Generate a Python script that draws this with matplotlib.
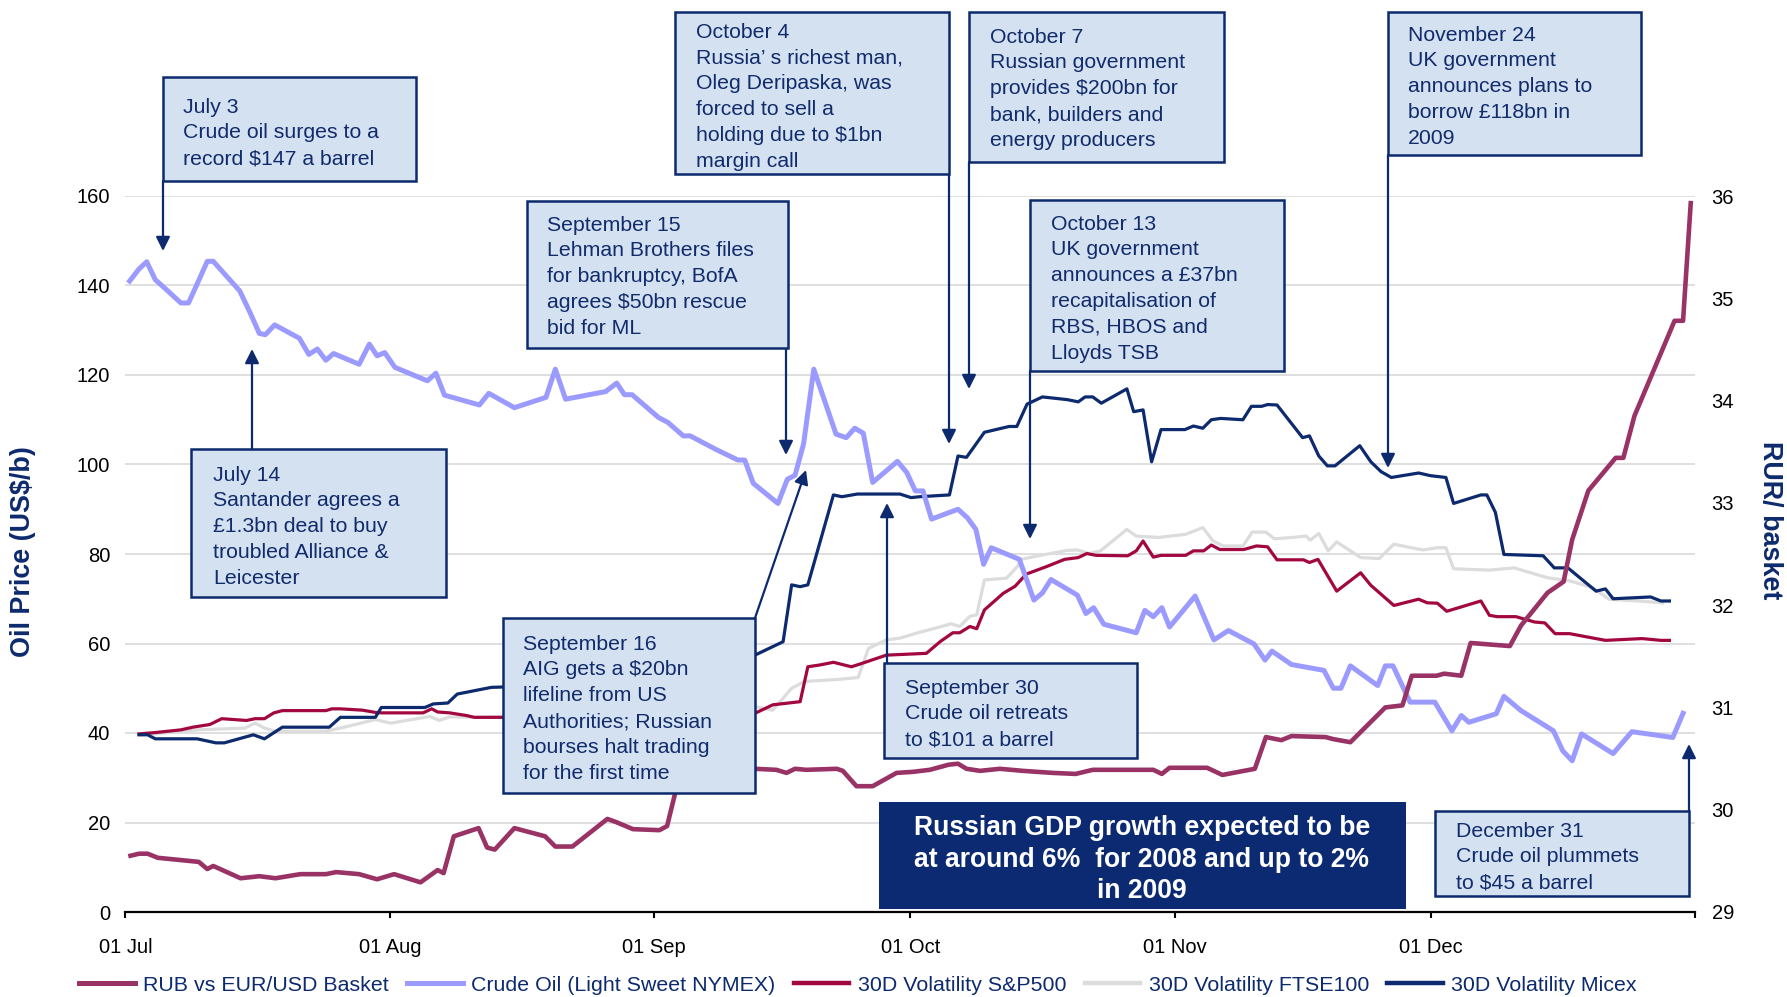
import matplotlib
matplotlib.use('Agg')
import matplotlib.pyplot as plt
from matplotlib.patches import Rectangle, FancyArrowPatch
from matplotlib.lines import Line2D

plt.rcParams['font.family'] = ['Liberation Sans', 'DejaVu Sans']

# ---------------- data (x = days since 01 Jul 2008) ----------------
tick_days = [0, 31, 62, 92, 123, 153, 184]
tick_labels = ['01 Jul', '01 Aug', '01 Sep', '01 Oct', '01 Nov', '01 Dec', '']
left_ticks = [0, 20, 40, 60, 80, 100, 120, 140, 160]
right_ticks = [29, 30, 31, 32, 33, 34, 35, 36]

crude_days = [0.5, 1.6, 2.5, 3.5, 4.5, 6.5, 7.4, 8.4, 9.6, 10.3, 13.4, 14.6, 15.7, 16.4, 17.5,
              20.4, 21.5, 22.5, 23.5, 24.4, 27.4, 28.6, 29.5, 30.4, 31.6, 35.4, 36.4, 37.4,
              41.5, 42.6, 45.6, 49.3, 50.4, 51.6, 56.3, 57.6, 58.5, 59.4, 62.5, 63.6, 65.4,
              66.2, 69.3, 70.6, 71.8, 72.6, 73.6, 76.5, 77.6, 78.5, 79.5, 80.7, 83.3, 84.5,
              85.5, 86.5, 87.6, 90.5, 91.6, 92.6, 93.5, 94.5, 97.6, 98.7, 99.7, 100.6, 101.5,
              104.8, 106.5, 107.5, 108.5, 111.6, 112.6, 113.5, 114.7, 118.5, 119.5, 120.5,
              121.5, 122.4, 125.4, 127.6, 129.3, 132.3, 133.6, 134.4, 136.7, 140.5, 141.6,
              142.5, 143.6, 146.8, 147.7, 148.6, 150.6, 153.5, 155.5, 156.6, 157.5, 160.7,
              161.6, 163.6, 167.4, 168.5, 169.6, 170.7, 174.4, 176.6, 181.4, 182.6]
crude_vals = [141.0, 143.7, 145.3, 141.3, 139.6, 136.1, 136.1, 140.3, 145.4, 145.4, 138.8, 134.0,
              129.3, 129.0, 131.2, 128.2, 124.6, 125.8, 123.3, 124.8, 122.4, 126.9, 124.3, 125.0,
              121.7, 118.7, 120.4, 115.5, 113.3, 115.9, 112.7, 115.0, 121.3, 114.6, 116.3, 118.2,
              115.6, 115.6, 110.5, 109.4, 106.4, 106.4, 103.3, 102.1, 101.0, 101.0, 95.8, 91.3,
              96.7, 97.6, 104.6, 121.3, 106.8, 106.0, 108.1, 107.0, 96.0, 100.7, 98.2, 94.1,
              94.1, 87.8, 90.0, 88.1, 85.5, 77.7, 81.4, 78.8, 69.7, 71.3, 74.3, 70.8, 66.7,
              68.0, 64.3, 62.4, 67.4, 66.0, 68.0, 63.7, 70.6, 60.8, 62.9, 59.9, 56.3, 58.3,
              55.3, 54.0, 50.0, 50.0, 55.0, 50.6, 55.0, 55.0, 46.9, 46.9, 40.5, 43.9, 42.4,
              44.3, 48.2, 45.0, 40.5, 36.0, 33.8, 39.8, 35.4, 40.3, 39.0, 44.4]

micex_days = [1.6, 2.6, 3.5, 8.4, 10.6, 11.6, 15.0, 16.3, 18.4, 23.9, 25.2, 29.3, 30.0, 35.1,
              36.1, 37.8, 38.9, 42.9, 48.0, 55.0, 62.0, 68.0, 72.0, 73.8, 77.1, 78.1, 79.1,
              80.0, 83.0, 84.0, 85.8, 90.8, 92.1, 93.1, 96.6, 97.6, 98.6, 100.7, 103.6, 104.5,
              105.7, 107.5, 110.4, 111.7, 112.5, 113.4, 114.4, 117.4, 118.2, 119.3, 120.3,
              121.4, 124.2, 125.2, 126.3, 127.3, 128.4, 131.0, 132.0, 133.2, 133.9, 135.0,
              138.0, 138.8, 139.9, 140.9, 141.8, 144.7, 146.0, 147.2, 148.4, 151.6, 153.0,
              154.8, 155.7, 158.9, 159.6, 160.6, 161.6, 166.2, 167.5, 169.1, 172.4, 173.5,
              174.4, 178.8, 180.0, 181.0]
micex_vals = [39.6, 39.6, 38.7, 38.7, 37.8, 37.8, 39.6, 38.7, 41.3, 41.3, 43.5, 43.5, 45.7, 45.7,
              46.5, 46.7, 48.7, 50.2, 50.5, 51.0, 52.0, 55.0, 57.0, 57.4, 60.4, 73.1, 72.7,
              73.1, 93.2, 92.8, 93.4, 93.4, 92.6, 92.8, 93.2, 101.9, 101.6, 107.2, 108.5, 108.5,
              113.5, 115.1, 114.5, 114.0, 115.1, 115.1, 113.7, 116.9, 111.8, 112.2, 100.6,
              107.8, 107.8, 108.6, 108.1, 110.0, 110.3, 110.0, 113.0, 113.0, 113.4, 113.3,
              106.0, 106.4, 101.9, 99.7, 99.7, 104.2, 100.6, 98.4, 97.1, 98.1, 97.5, 97.1,
              91.3, 93.2, 93.2, 89.3, 79.9, 79.6, 76.9, 76.9, 71.7, 72.2, 70.0, 70.4, 69.5, 69.5]

sp_days = [1.6, 3.5, 6.5, 7.9, 9.9, 11.3, 14.2, 15.2, 16.3, 17.4, 18.4, 23.5, 24.2, 25.2, 27.8,
           29.3, 30.0, 34.9, 35.9, 36.6, 38.0, 40.0, 40.9, 43.5, 50.0, 58.0, 66.0, 70.0, 73.8,
           75.9, 79.1, 80.0, 81.4, 83.0, 85.1, 86.1, 89.2, 93.9, 95.5, 97.0, 97.8, 99.0, 99.8,
           100.7, 102.9, 104.3, 105.6, 108.0, 110.1, 111.7, 112.7, 113.8, 117.5, 118.5, 119.3,
           120.5, 121.4, 124.3, 125.2, 126.4, 127.3, 128.3, 131.1, 132.6, 133.9, 135.0, 138.1,
           138.8, 139.8, 142.0, 144.8, 146.0, 148.7, 151.6, 152.6, 153.8, 154.9, 158.9, 159.9,
           160.8, 163.0, 165.2, 166.4, 167.6, 169.3, 173.5, 177.8, 180.0, 181.0]
sp_vals = [39.8, 40.1, 40.7, 41.3, 41.9, 43.2, 42.8, 43.2, 43.2, 44.5, 45.0, 45.0, 45.4, 45.4,
           45.1, 44.6, 44.5, 44.5, 45.4, 44.7, 44.5, 43.9, 43.5, 43.5, 43.5, 44.0, 44.0, 44.2,
           44.4, 46.3, 47.0, 54.8, 55.2, 55.8, 54.8, 55.4, 57.4, 57.8, 60.4, 62.4, 62.4, 63.8,
           63.3, 67.5, 71.2, 72.8, 75.5, 77.2, 78.8, 79.2, 80.1, 79.7, 79.6, 80.7, 82.9, 79.3,
           79.7, 79.7, 80.7, 80.7, 82.0, 81.0, 81.0, 81.8, 81.6, 78.7, 78.7, 78.1, 78.8, 71.7,
           75.8, 73.0, 68.5, 69.9, 69.1, 69.0, 67.2, 69.5, 66.3, 66.0, 66.0, 64.8, 64.6, 62.2,
           62.2, 60.7, 61.1, 60.7, 60.7]

ftse_days = [1.6, 3.5, 8.4, 14.0, 15.2, 16.3, 17.6, 23.5, 25.2, 29.3, 31.1, 35.7, 36.8, 38.0,
             41.0, 43.5, 50.0, 58.0, 66.0, 70.0, 73.8, 75.9, 78.1, 79.6, 83.7, 85.9, 87.1, 89.2,
             90.8, 92.9, 94.9, 96.8, 97.8, 99.0, 99.8, 100.7, 103.3, 104.6, 105.0, 106.0, 107.0,
             110.4, 111.6, 113.0, 114.3, 117.4, 118.5, 121.1, 124.3, 126.3, 127.5, 128.7, 131.0,
             132.1, 133.7, 134.7, 136.8, 138.4, 138.9, 139.9, 141.0, 142.0, 144.8, 147.0, 148.7,
             152.1, 153.8, 154.8, 155.7, 159.9, 162.8, 166.7, 169.3, 172.0, 173.9, 177.3, 180.2]
ftse_vals = [39.6, 39.8, 40.7, 41.1, 42.2, 41.1, 40.4, 40.4, 41.1, 43.0, 42.2, 43.7, 42.8, 43.6,
             43.5, 43.6, 44.0, 44.5, 45.0, 45.5, 45.9, 45.1, 50.0, 51.5, 52.0, 52.4, 58.9, 60.8,
             61.2, 62.4, 63.4, 64.4, 63.8, 66.1, 66.4, 74.2, 74.6, 77.3, 78.8, 79.2, 79.6, 80.8,
             80.9, 80.1, 80.7, 85.5, 84.0, 83.7, 84.4, 85.9, 82.9, 81.8, 81.8, 84.9, 84.9, 83.4,
             83.7, 84.0, 83.1, 84.6, 80.7, 82.7, 79.2, 79.0, 82.2, 80.9, 81.4, 81.4, 76.7, 76.4,
             76.9, 74.7, 74.0, 72.5, 69.9, 69.5, 69.1]

rub_days = [0.6, 1.6, 2.6, 3.8, 7.4, 8.6, 9.6, 10.3, 13.5, 15.7, 17.6, 20.5, 23.5, 24.7, 27.4,
            29.5, 31.5, 34.6, 36.6, 37.3, 38.5, 41.4, 42.4, 43.3, 45.6, 49.2, 50.4, 52.4, 56.5,
            57.5, 59.5, 62.6, 63.5, 64.5, 65.5, 70.0, 73.8, 76.3, 77.5, 78.5, 79.8, 83.4, 84.1,
            85.7, 87.6, 90.4, 92.3, 94.3, 96.5, 97.6, 98.6, 100.2, 102.5, 105.2, 108.7, 111.4,
            113.4, 120.5, 121.5, 122.4, 126.8, 128.6, 132.4, 133.7, 135.5, 136.7, 140.7, 141.6,
            143.6, 147.7, 149.7, 150.8, 153.7, 154.6, 156.6, 157.7, 162.3, 163.6, 166.7, 168.6,
            169.6, 171.5, 174.7, 175.6, 176.9, 181.2, 181.6, 182.6, 183.5]
rub_vals = [29.55, 29.57, 29.57, 29.53, 29.50, 29.49, 29.42, 29.45, 29.33, 29.35, 29.33, 29.37,
            29.37, 29.39, 29.37, 29.32, 29.37, 29.29, 29.41, 29.38, 29.74, 29.82, 29.63, 29.61,
            29.82, 29.74, 29.64, 29.64, 29.91, 29.88, 29.81, 29.80, 29.84, 30.18, 30.38, 30.40,
            30.40, 30.39, 30.36, 30.40, 30.39, 30.40, 30.38, 30.23, 30.23, 30.36, 30.37, 30.39,
            30.44, 30.45, 30.40, 30.38, 30.40, 30.38, 30.36, 30.35, 30.39, 30.39, 30.35, 30.41,
            30.41, 30.34, 30.40, 30.71, 30.68, 30.72, 30.71, 30.69, 30.66, 31.00, 31.02, 31.31,
            31.31, 31.33, 31.31, 31.63, 31.60, 31.80, 32.12, 32.23, 32.64, 33.12, 33.44, 33.44,
            33.85, 34.70, 34.78, 34.78, 35.93]

series_labels = ['RUB vs EUR/USD Basket', 'Crude Oil (Light Sweet NYMEX)', '30D Volatility S&P500',
                 '30D Volatility FTSE100', '30D Volatility Micex']

# annotation boxes: (left, top, right, bottom) in px, text x, first-line centre y, lines
notes = [
    ((163, 77, 416, 181), 183, 105, ['July 3', 'Crude oil surges to a', 'record $147 a barrel']),
    ((191, 449, 446, 597), 213, 473, ['July 14', 'Santander agrees a', '£1.3bn deal to buy',
                                       'troubled Alliance &', 'Leicester']),
    ((527, 201, 788, 348), 547, 223, ['September 15', 'Lehman Brothers files', 'for bankruptcy, BofA',
                                       'agrees $50bn rescue', 'bid for ML']),
    ((503, 618, 755, 793), 523, 642, ['September 16', 'AIG gets a $20bn', 'lifeline from US',
                                       'Authorities; Russian', 'bourses halt trading', 'for the first time']),
    ((675, 12, 949, 174), 696, 30, ['October 4', 'Russia\u2019 s richest man,', 'Oleg Deripaska, was',
                                     'forced to sell a', 'holding due to $1bn', 'margin call']),
    ((969, 12, 1224, 162), 990, 35, ['October 7', 'Russian government', 'provides $200bn for',
                                      'bank, builders and', 'energy producers']),
    ((1030, 200, 1284, 371), 1051, 222, ['October 13', 'UK government', 'announces a £37bn',
                                          'recapitalisation of', 'RBS, HBOS and', 'Lloyds TSB']),
    ((1388, 12, 1641, 155), 1408, 33, ['November 24', 'UK government', 'announces plans to',
                                        'borrow £118bn in', '2009']),
    ((884, 663, 1137, 758), 905, 686, ['September 30', 'Crude oil retreats', 'to $101 a barrel']),
    ((1435, 811, 1689, 896), 1456, 829, ['December 31', 'Crude oil plummets', 'to $45 a barrel']),
]
arrows = [((163, 181), (163, 251)), ((252, 449), (252, 349)), ((786, 348), (786, 455)),
          ((755, 618), (806, 470)), ((949, 174), (949, 444)), ((969, 162), (969, 389)),
          ((1030, 371), (1030, 539)), ((1388, 155), (1388, 468)), ((887, 663), (887, 503)),
          ((1689, 811), (1689, 744))]
gdp_lines = ['Russian GDP growth expected to be', 'at around 6%  for 2008 and up to 2%', 'in 2009']

# ---------------- styling ----------------
W, H = 1787, 997
NAVY = '#0c2a6d'
TXT = '#112b6b'
FILL = '#d4e1f1'
C_RUB, C_CRUDE, C_SP, C_FTSE, C_MICEX = '#993366', '#9b9bff', '#a3073f', '#dcdcdc', '#0c2a6d'

fig = plt.figure(figsize=(W / 100, H / 100), dpi=100)


def fx(x):
    return x / W


def fy(y):
    return 1 - y / H


ax = fig.add_axes([fx(125.4), fy(912), fx(1695) - fx(125.4), fy(196) - fy(912)])
ax2 = ax.twinx()

ax.plot(ftse_days, ftse_vals, color=C_FTSE, lw=2.3, zorder=3)
ax.plot(sp_days, sp_vals, color=C_SP, lw=2.3, zorder=4)
ax.plot(micex_days, micex_vals, color=C_MICEX, lw=2.3, zorder=5)
ax.plot(crude_days, crude_vals, color=C_CRUDE, lw=3.6, zorder=6)
ax2.plot(rub_days, rub_vals, color=C_RUB, lw=3.3, zorder=3)

ax.set_xlim(0, 184)
ax.set_ylim(0, 160)
ax2.set_ylim(29, 36)
ax.set_yticks(left_ticks)
ax2.set_yticks(right_ticks)
ax.set_xticks(tick_days)
ax.set_xticklabels(tick_labels)
for a in (ax, ax2):
    for s in ('top', 'left', 'right'):
        a.spines[s].set_visible(False)
ax2.spines['bottom'].set_visible(False)
ax.spines['bottom'].set_linewidth(1.6)
ax.spines['bottom'].set_color('black')
ax.yaxis.grid(True, color='#d9d9d9', lw=1.2)
ax.set_axisbelow(True)
ax.tick_params(axis='y', length=0, pad=11, labelsize=14.5, labelcolor='black')
ax2.tick_params(axis='y', length=0, pad=12, labelsize=14.5, labelcolor='black')
ax.tick_params(axis='x', direction='out', length=4, width=1.5, pad=14.5, labelsize=14.5)

fig.text(fx(23), fy(552), 'Oil Price (US$/b)', rotation=90, ha='center', va='center',
         fontsize=19.4, fontweight='bold', color=NAVY)
fig.text(fx(1770), fy(520), 'RUR/ basket', rotation=-90, ha='center', va='center',
         fontsize=19.4, fontweight='bold', color=NAVY)

# annotation boxes
FS = 15.3
em = FS * 100 / 72
for (l, t, r, b), tx, ty, lines in notes:
    fig.add_artist(Rectangle((fx(l), fy(b)), fx(r) - fx(l), fy(t) - fy(b), transform=fig.transFigure,
                             facecolor=FILL, edgecolor=NAVY, lw=1.8, zorder=10))
    for i, line in enumerate(lines):
        fig.text(fx(tx), fy(ty + i * 25.8 + 0.358 * em), line, ha='left', va='baseline',
                 fontsize=FS, color=TXT, zorder=11)

for (x0, y0), (x1, y1) in arrows:
    fig.add_artist(FancyArrowPatch((fx(x0), fy(y0)), (fx(x1), fy(y1)), transform=fig.transFigure,
                                   arrowstyle='-|>,head_length=0.6,head_width=0.3', mutation_scale=14,
                                   lw=1.6, color=NAVY, shrinkA=0, shrinkB=0, zorder=9))

# GDP box
fig.add_artist(Rectangle((fx(879), fy(909)), fx(1406) - fx(879), fy(802) - fy(909),
                         transform=fig.transFigure, facecolor='#0b2a72', edgecolor='none', zorder=10))
GFS = 19.1
gem = GFS * 100 / 72
for i, line in enumerate(gdp_lines):
    fig.text(fx(1142), fy(826 + i * 31.5 + 0.358 * gem), line, ha='center', va='baseline',
             fontsize=GFS, fontweight='bold', color='white', zorder=11)

# legend
widths = [3.6, 3.6, 3.2, 3.2, 3.2]
colors = [C_RUB, C_CRUDE, C_SP, C_FTSE, C_MICEX]
handles = [Line2D([], [], color=c, lw=w) for c, w in zip(colors, widths)]
fig.legend(handles, series_labels, loc='center left', bbox_to_anchor=(fx(79), fy(985)), ncol=5,
           frameon=False, borderpad=0, borderaxespad=0, handlelength=2.6, handletextpad=0.4,
           columnspacing=0.85, fontsize=15.4, labelcolor=NAVY)

fig.savefig('out.png', dpi=100)
